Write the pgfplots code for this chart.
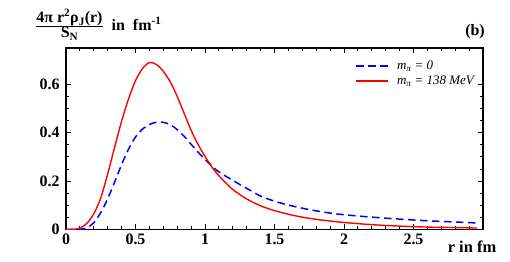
\documentclass[border=0pt]{standalone}
\usepackage{fontspec}
\setmainfont{Liberation Serif}
\usepackage{pgfplots}
\pgfplotsset{compat=1.18}
\pgfplotstableread{
r v
0 0
0.05 0.0005
0.1 0.006
0.15 0.025
0.2 0.065
0.25 0.13
0.3 0.23
0.35 0.34
0.4 0.447
0.45 0.54
0.5 0.615
0.55 0.665
0.6 0.69
0.65 0.682
0.7 0.654
0.75 0.61
0.8 0.55
0.85 0.48
0.9 0.41
0.95 0.352
1.0 0.302
1.05 0.258
1.1 0.222
1.15 0.192
1.2 0.165
1.3 0.126
1.4 0.098
1.5 0.078
1.6 0.063
1.7 0.051
1.8 0.042
1.9 0.035
2.0 0.029
2.2 0.020
2.4 0.014
2.6 0.010
2.8 0.008
2.96 0.006
}\redtab
\pgfplotstableread{
r v
0 0
0.1 0.001
0.15 0.007
0.2 0.028
0.25 0.07
0.3 0.127
0.35 0.196
0.4 0.268
0.45 0.332
0.5 0.382
0.55 0.415
0.6 0.434
0.65 0.443
0.7 0.443
0.75 0.433
0.8 0.413
0.85 0.385
0.9 0.352
0.95 0.32
1.0 0.29
1.05 0.262
1.1 0.238
1.2 0.203
1.3 0.17
1.4 0.138
1.5 0.117
1.6 0.101
1.7 0.088
1.8 0.077
1.9 0.068
2.0 0.061
2.2 0.051
2.4 0.043
2.6 0.036
2.8 0.031
2.96 0.027
}\bluetab
\begin{document}
\begin{tikzpicture}
\useasboundingbox (-66bp,-32.5bp) rectangle (444bp,229.5bp);
\begin{axis}[
  scale only axis, width=417bp, height=181.5bp,
  at={(0,0)}, anchor=south west,
  xmin=0, xmax=3, ymin=0, ymax=0.75,
  xtick={0,0.5,1,1.5,2,2.5,3}, xticklabels={0,0.5,1,1.5,2,2.5,},
  minor x tick num=4,
  ytick={0,0.2,0.4,0.6}, minor y tick num=3,
  tick align=inside, xtick pos=both, ytick pos=both,
  major tick length=5bp, minor tick length=3bp,
  axis line style={line width=1.3bp},
  every tick/.style={line width=0.9bp, black},
  /pgf/number format/assume math mode=true,
  tick label style={font=\fontsize{16}{18}\selectfont\bfseries},
  xticklabel style={yshift=-1bp},
  yticklabel style={xshift=-3bp},
]
\addplot[blue, line width=1.5bp, dash pattern=on 7.5bp off 4.5bp, smooth, tension=0.5] table[x=r,y=v] {\bluetab};
\addplot[red, line width=1.4bp, smooth, tension=0.5] table[x=r,y=v] {\redtab};
% legend samples
\addplot[blue, line width=1.5bp, dash pattern=on 8bp off 4bp] coordinates {(2.085,0.676) (2.316,0.676)};
\addplot[red, line width=1.4bp] coordinates {(2.085,0.614) (2.316,0.614)};
\node[anchor=west, inner sep=0pt, font=\fontsize{13}{15}\selectfont\itshape] at (axis cs:2.38,0.676) {m\textsubscript{π} = 0};
\node[anchor=west, inner sep=0pt, font=\fontsize{13}{15}\selectfont\itshape] at (axis cs:2.38,0.614) {m\textsubscript{π} = 138 MeV};
\end{axis}
\node[font=\fontsize{16.5}{18}\selectfont\bfseries] at (406bp,-17.5bp) {r in fm};
\node[font=\fontsize{16}{17}\selectfont\bfseries, anchor=east, inner sep=0pt] at (419bp,197.5bp) {(b)};
\node[font=\fontsize{16}{18}\selectfont\bfseries, anchor=west, inner sep=0pt] at (-31bp,205bp)
  {$\frac{\mbox{4π r\textsuperscript{2}ρ\textsubscript{J}(r)}}{\mbox{S\textsubscript{N}}}$\ \ in\ \ fm\textsuperscript{-1}};
\end{tikzpicture}
\end{document}
